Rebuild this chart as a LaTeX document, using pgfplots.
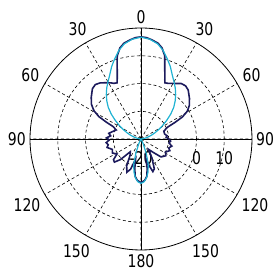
\documentclass[border=0pt]{standalone}
\usepackage{fontspec}
\setmainfont{DejaVu Sans}[FakeStretch=0.8]
\usepackage{pgfplots}
\pgfplotsset{compat=1.18}
\usepgfplotslibrary{polar}
\usepackage{pgfplotstable}
\definecolor{navyc}{RGB}{28,26,92}
\definecolor{cyanc}{RGB}{30,178,210}

% t: angle clockwise from top (deg), d: level (dB)
\pgfplotstableread{
t d
0 16.8
3 16.6
6 16.0
10 15.1
13 13.7
16 11.1
18 7.7
20 5.1
22 2.9
23 2.0
26 2.3
28 2.7
32 3.6
36 4.7
40 5.0
44 4.5
50 2.8
55 1.3
59 -0.5
62 -3.1
64 -6.4
66 -9.5
71 -11.3
78 -11.3
83 -10.5
86 -10.9
90 -10.0
94 -9.3
98 -9.8
103 -8.6
108 -9.5
112 -8.8
118 -10.0
124 -9.2
128 -9.8
132 -10.4
138 -13.6
144 -15.4
150 -12.1
156 -8.2
160 -7.5
163 -10.0
166 -12.9
168 -9.3
171 -6.4
175 -5.0
180 -4.3
185 -5.0
189 -6.4
192 -9.3
195 -12.5
199 -8.5
203 -7.0
208 -9.0
214 -13.0
220 -14.0
225 -9.5
229 -7.3
233 -7.6
238 -9.8
244 -8.5
250 -9.0
256 -7.4
260 -8.0
264 -7.4
268 -8.5
272 -7.6
276 -9.0
280 -8.2
285 -9.5
290 -10.5
294 -9.0
296 -6.0
298 -2.8
301 -0.2
305 1.8
310 3.4
316 5.2
320 5.6
324 5.0
328 3.9
332 2.9
334 2.3
337 2.0
338 2.9
340 5.0
342 7.8
344 11.1
347 13.7
350 15.1
354 16.0
357 16.6
360 16.8
}\darkdata

\pgfplotstableread{
t d
0 16.7
5 16.1
10 14.8
14 12.9
18 10.5
22 8.2
26 5.7
30 3.8
34 2.1
38 0.3
42 -1.6
46 -3.6
50 -6.0
54 -8.5
58 -10.8
62 -12.8
66 -14.5
70 -16.0
75 -17.5
80 -18.8
85 -20
150 -20
155 -18.2
160 -14.6
164 -10.5
168 -7.8
172 -5.8
176 -4.5
180 -4.0
184 -4.5
188 -5.8
192 -7.8
196 -10.5
200 -14.6
205 -18.2
210 -20
275 -20
280 -18.8
285 -17.5
290 -16.0
294 -14.5
298 -12.8
302 -10.8
306 -8.5
310 -6.0
314 -3.6
318 -1.6
322 0.3
326 2.1
330 3.8
334 5.7
338 8.2
342 10.5
346 12.9
350 14.8
355 16.1
360 16.7
}\cyandata

\begin{document}
\begin{tikzpicture}
\begin{polaraxis}[
  scale only axis, width=222pt, height=222pt,
  xmin=0, xmax=360, ymin=0, ymax=40,
  xtick={0,30,...,330},
  xticklabels={90,60,30,0,30,60,90,120,150,180,150,120},
  ytick={0,10,20,30},
  yticklabels={-20,,0,10},
  xmajorgrids, ymajorgrids,
  major grid style={black, line width=0.6pt, dash pattern=on 3pt off 2.5pt},
  axis line style={black, line width=0.8pt},
  major tick length=0pt,
  tick label style={font=\fontsize{17.5}{17.5}\selectfont},
  xticklabel style={inner sep=4pt},
  yticklabel style={anchor=north, yshift=-9pt},
]
\coordinate (C) at (axis cs:0,0);
\draw[black, line width=0.8pt] (axis cs:0,40) -- (axis cs:180,40);
\draw[black, line width=0.8pt] (axis cs:90,40) -- (axis cs:270,40);
\addplot[navyc, line width=1.6pt, no markers] table[x expr={90-\thisrow{t}}, y expr={max(\thisrow{d}+20,0)}] {\darkdata};
\addplot[cyanc, line width=1.2pt, no markers] table[x expr={90-\thisrow{t}}, y expr={max(\thisrow{d}+20,0)}] {\cyandata};
\end{polaraxis}
\path (C) ++(-141pt,-139pt) rectangle ++(273pt,278pt);
\end{tikzpicture}
\end{document}
